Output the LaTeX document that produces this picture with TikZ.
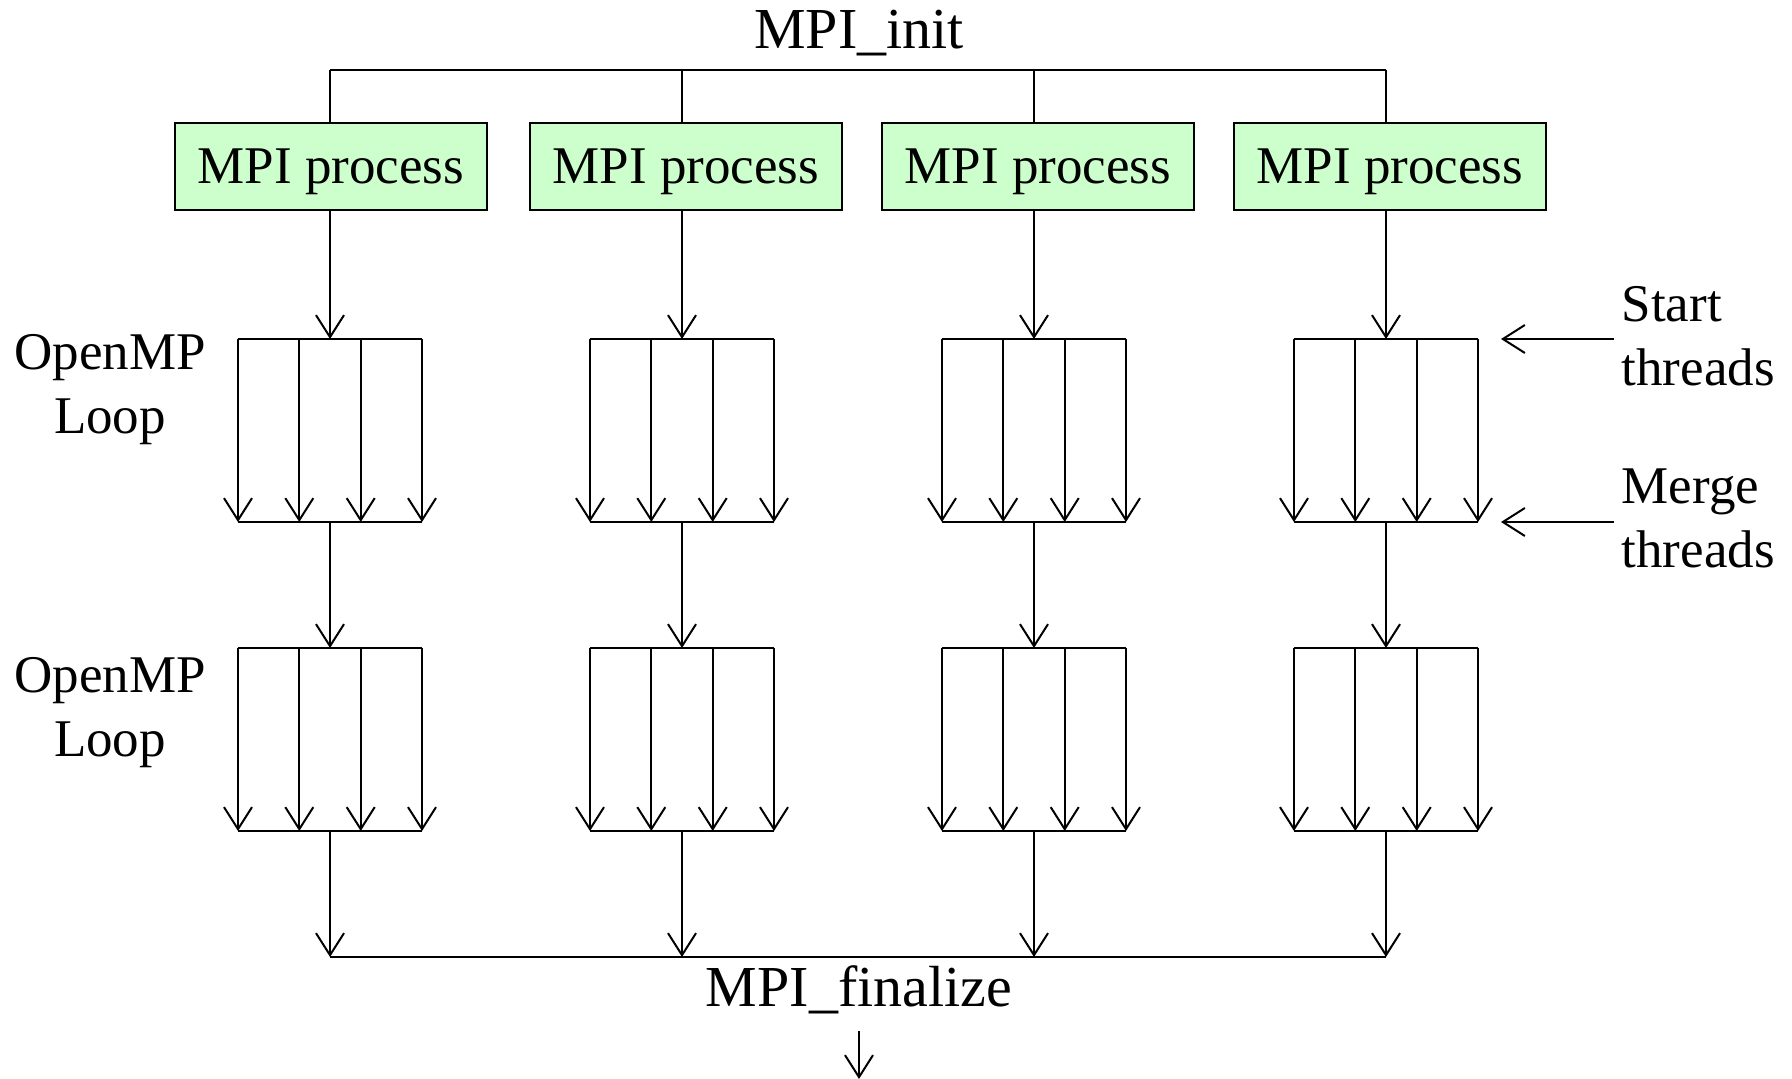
\documentclass[tikz,border=0pt]{standalone}
\usepackage{fontspec}
\setmainfont{Liberation Serif}
\usetikzlibrary{arrows.meta}

\begin{document}
\begin{tikzpicture}[x=0.5pt,y=-0.5pt,>={Straight Barb[length=11pt,width=14pt]},line width=1pt,
	txt/.style={align=center,font=\fontsize{26.5}{32}\selectfont},
	big/.style={anchor=base,font=\fontsize{29}{34}\selectfont},
	proc/.style={txt,draw,fill=green!20,minimum width=156pt,minimum height=43.5pt,inner sep=0pt,text depth=0pt}]
	\useasboundingbox (0,0) rectangle (1792,1079);

	\node[big] (init) at (859,49) {MPI\_init};
	\node[big] (fin) at (859,1006) {MPI\_finalize};
	\coordinate (out) at (859,1079);
	\draw[->,shorten <=5pt] (fin) -- (out);

	\foreach \i/\bx in {1/331,2/686,3/1038,4/1390} {
		\pgfmathsetmacro\cx{330+352*(\i-1)}
		\coordinate (top\i) at (\cx,70);
		\coordinate (bot\i) at (\cx,957);
		\node[proc] (p\i) at (\bx,166.5) {MPI process};
		% two OpenMP loops per process
		\coordinate (s1\i) at (\cx,339);
		\coordinate (m1\i) at (\cx,522);
		\coordinate (s2\i) at (\cx,648);
		\coordinate (m2\i) at (\cx,831);
		\draw (top\i) -- (top\i |- p\i.north);
		\draw[->] (top\i |- p\i.south) -- (s1\i);
		\draw[->] (m1\i) -- (s2\i);
		\draw[->] (m2\i) -- (bot\i);
		\foreach \k in {1,2} {
			\draw ([xshift=-46pt]s\k\i) -- ([xshift=46pt]s\k\i);
			\draw ([xshift=-46pt]m\k\i) -- ([xshift=46pt]m\k\i);
			\foreach \dx in {-92,-30.7,30.7,92}
				\draw[->] ([xshift=\dx*0.5pt]s\k\i) -- ([xshift=\dx*0.5pt]m\k\i);
		}
	}
	\draw (top1) -- (top4);
	\draw (bot1) -- (bot4);

	\node[txt] (loop1) at (110,390) {OpenMP\\Loop};
	\node[txt] (loop2) at (110,713) {OpenMP\\Loop};

	\node[txt,align=left,anchor=west] (start) at (1614,336) {Start\\threads};
	\node[txt,align=left,anchor=west] (merge) at (1614,518) {Merge\\threads};
	\coordinate (st) at (1501,339);
	\coordinate (mt) at (1501,522);
	\draw[->] (start.west |- st) -- (st);
	\draw[->] (merge.west |- mt) -- (mt);
\end{tikzpicture}
\end{document}
